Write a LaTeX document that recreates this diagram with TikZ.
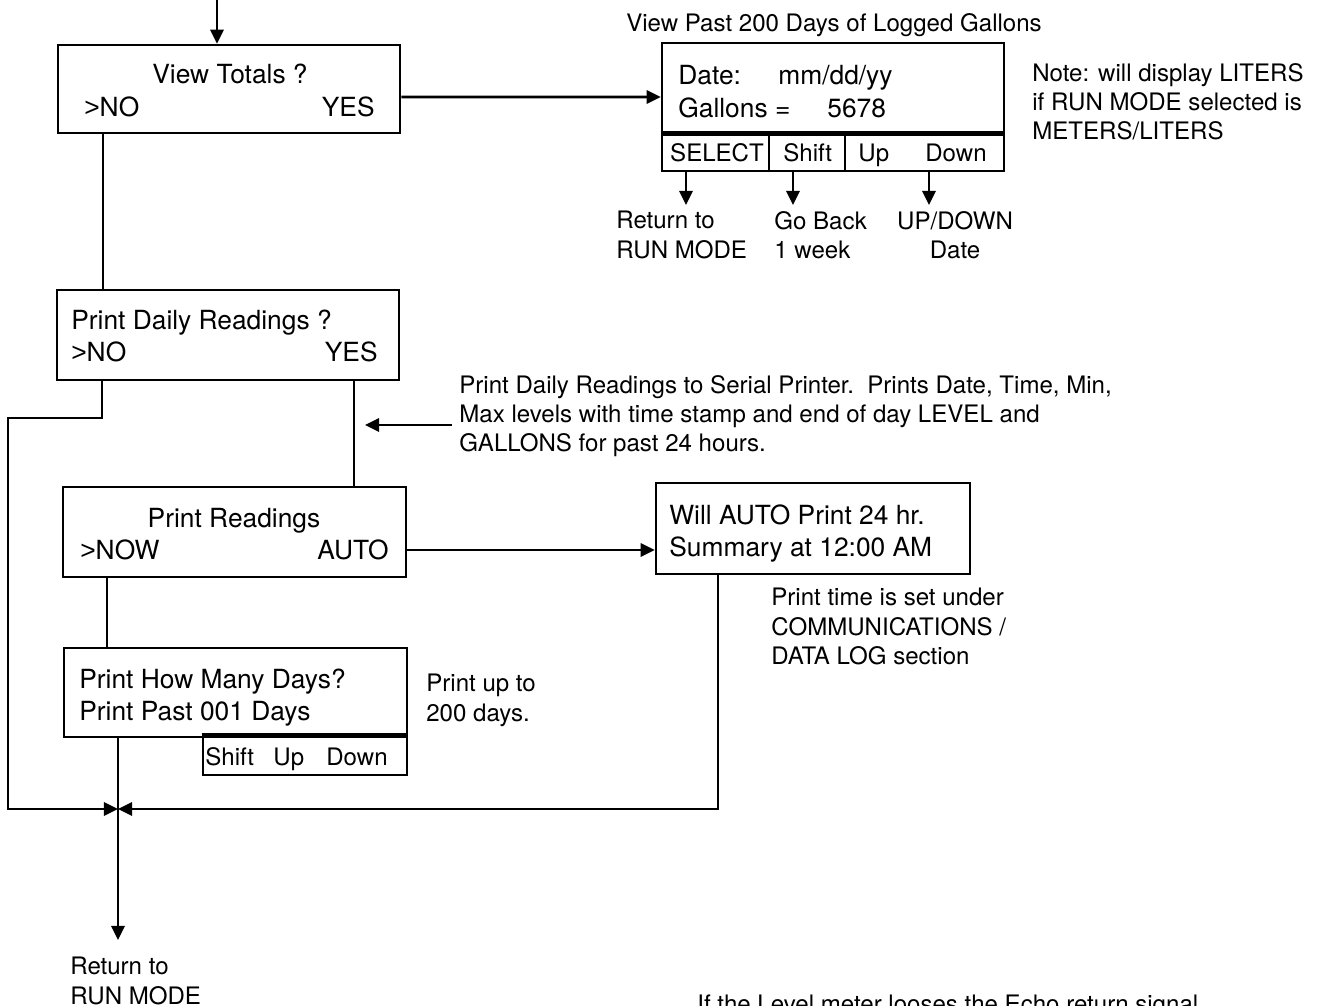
\documentclass[tikz,border=0pt]{standalone}
\usepackage{fontspec}
\setmainfont{TeX Gyre Heros}
\newfontfamily\arialfont{Liberation Sans}
\usetikzlibrary{arrows.meta}

\newcommand\boxfont{\fontsize{15}{18}\selectfont}
\newcommand\notefont{\fontsize{13.7}{16.6}\selectfont}
\newcommand\pick{{\arialfont >}}

\tikzset{
  box/.style={draw, line width=1.5pt, inner sep=0pt},
  flow/.style={line width=1.5pt},
  tip/.style={-{Triangle[length=8pt,width=7.5pt]}},
  sep/.style={line width=3pt},
  boxtxt/.style={anchor=base west, inner sep=0pt, font=\boxfont},
  keytxt/.style={anchor=base west, inner sep=0pt, font=\notefont},
  note/.style={anchor=north west, inner sep=0pt, align=left, font=\notefont}
}

\begin{document}
\begin{tikzpicture}[x=0.02cm,y=-0.02cm]
  \useasboundingbox (0,0) rectangle (1317,1006);

  % boxes
  \node[box, minimum width=6.84cm, minimum height=1.76cm] (totals) at (229,89) {};
  \node[box, minimum width=6.84cm, minimum height=2.56cm] (display) at (833,107) {};
  \node[box, minimum width=6.84cm, minimum height=1.8cm] (daily) at (228,335) {};
  \node[box, minimum width=6.86cm, minimum height=1.8cm] (readings) at (234.5,532) {};
  \node[box, minimum width=6.28cm, minimum height=1.82cm] (auto) at (813,528.5) {};
  \node[box, minimum width=6.86cm, minimum height=1.78cm] (howmany) at (235.5,692.5) {};
  \node[box, minimum width=4.08cm, minimum height=0.76cm] (keys) at (305,756) {};

  \draw[sep] ([yshift=0.78cm]display.south west) -- ([yshift=0.78cm]display.south east);
  \foreach \x in {769,845}
    \draw[flow] (display.south -| \x,0) -- (\x,132);
  \draw[sep] (keys.north west) -- (keys.north east);

  % box texts
  \node[boxtxt, anchor=base] (totalsq) at (230,84) {View Totals ?};
  \node[boxtxt] (totalsno) at (84,117) {\pick NO};
  \node[boxtxt, anchor=base east] (totalsyes) at (375,117) {YES};

  \node[boxtxt] (date) at (678,85) {Date:};
  \node[boxtxt] (dateval) at (778,85) {mm/dd/yy};
  \node[boxtxt] (gal) at (678,118) {Gallons =};
  \node[boxtxt] (galval) at (827,118) {5678};
  \node[keytxt, anchor=base] (kselect) at (717,162) {SELECT};
  \node[keytxt] (kshift) at (783,162) {Shift};
  \node[keytxt] (kup) at (858,162) {Up};
  \node[keytxt] (kdown) at (925,162) {Down};

  \node[boxtxt] (dailyq) at (71,330) {Print Daily Readings ?};
  \node[boxtxt] (dailyno) at (71,362) {\pick NO};
  \node[boxtxt, anchor=base east] (dailyyes) at (378,362) {YES};

  \node[boxtxt, anchor=base] (readq) at (234,527) {Print Readings};
  \node[boxtxt] (readnow) at (80,559) {\pick NOW};
  \node[boxtxt, anchor=base east] (readauto) at (389,559) {AUTO};

  \node[boxtxt] (auto1) at (669,524) {Will AUTO Print 24 hr.};
  \node[boxtxt] (auto2) at (669,556) {Summary at 12:00 AM};

  \node[boxtxt] (many1) at (79,688) {Print How Many Days?};
  \node[boxtxt] (many2) at (79,720) {Print Past 001 Days};
  \node[keytxt] (mshift) at (205,765) {Shift};
  \node[keytxt] (mup) at (273,765) {Up};
  \node[keytxt] (mdown) at (326,765) {Down};

  % notes
  \node[keytxt, anchor=base] (title) at (834,32) {View Past 200 Days of Logged Gallons};
  \node[note] (liters) at (1032,63) {Note: will display LITERS\\if RUN MODE selected is\\METERS/LITERS};
  \node[note] (retsel) at (616,211) {Return to\\RUN MODE};
  \node[note] (goback) at (774,211) {Go Back\\1 week};
  \node[note, anchor=north, align=center] (updown) at (955,211) {UP/DOWN\\Date};
  \node[note] (serial) at (459,375) {Print Daily Readings to Serial Printer.\ \ Prints Date, Time, Min,\\Max levels with time stamp and end of day LEVEL and\\GALLONS for past 24 hours.};
  \node[note] (ptime) at (771,588) {Print time is set under\\COMMUNICATIONS /\\DATA LOG section};
  \node[note] (upto) at (426,674) {Print up to\\200 days.};
  \node[note] (retrun) at (70,957) {Return to\\RUN MODE};
  \node[note] (echo) at (697,995) {If the Level meter looses the Echo return signal};

  % connectors
  \coordinate (start) at (217,0);
  \coordinate (jn) at (118,809);
  \coordinate (ret) at (118,940);
  \coordinate (pr) at (365,425);
  \draw[flow,tip] (start) -- (start |- totals.north);
  \draw[flow,tip] (totals.east |- 0,97) -- ([yshift=0.2cm]display.west);
  \foreach \x in {686,793,929}
    \draw[flow,tip] (display.south -| \x,0) -- (\x,205);
  \draw[flow] (totals.south -| 103,0) -- (daily.north -| 103,0);
  \draw[flow,tip] (daily.south -| 102,0) |- (8,418) |- (jn);
  \draw[flow] (daily.south -| 354,0) -- (readings.north -| 354,0);
  \draw[flow,tip] ([xshift=-0.14cm]serial.west |- pr) -- (pr);
  \draw[flow,tip] (readings.east |- 0,550) -- (auto.west |- 0,550);
  \draw[flow,tip] (auto.south -| 718,0) |- (jn);
  \draw[flow] (readings.south -| 107,0) -- (howmany.north -| 107,0);
  \draw[flow,tip] (howmany.south -| jn) -- (ret);
\end{tikzpicture}
\end{document}
